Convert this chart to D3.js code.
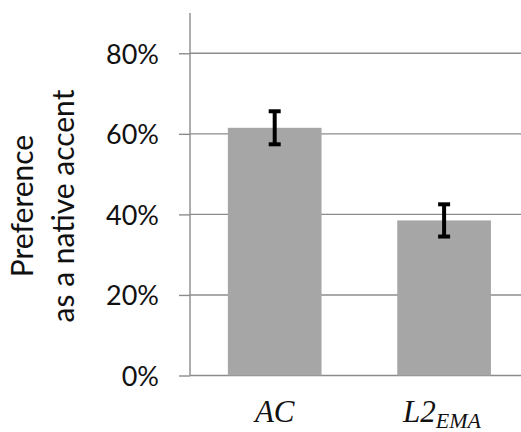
<!DOCTYPE html>
<html>
<head>
<meta charset="utf-8">
<script src="https://cdn.jsdelivr.net/npm/d3@7"></script>
<style>
  html, body { margin: 0; padding: 0; background: #fff; }
  svg { display: block; }
</style>
</head>
<body>
<svg id="chart" width="521" height="432"></svg>
<script>
// Share of listeners preferring each accent as native, with error margins
const categories = ["AC", "L2_EMA"];
const values = [61.5, 38.5];
const errors = [4.1, 4.0];
const yTicks = [0, 20, 40, 60, 80];

(function () {
  const svg = d3.select("#chart");
  const W = 521;
  const plotLeft = 190, plotTop = 13, plotBottom = 375.5;

  const y = d3.scaleLinear().domain([0, 90]).range([plotBottom, plotTop]);
  const x = d3.scaleBand().domain(categories).range([plotLeft, plotLeft + 2 * 169.4])
    .paddingInner(0.447).paddingOuter(0.2235);

  const labelFont = "Lato, 'Open Sans', sans-serif";

  // tick marks sticking out past the axis, with percent labels
  const yAxis = d3.axisLeft(y).tickValues(yTicks).tickSize(11)
    .tickFormat(d => d + "%");
  const gy = svg.append("g").attr("transform", `translate(${plotLeft},0)`).call(yAxis);
  gy.select(".domain").remove();
  gy.selectAll(".tick line").attr("stroke", "#8c8c8c").attr("stroke-width", 1.4);
  gy.selectAll(".tick text")
    .attr("x", -31)
    .attr("dy", "0.36em")
    .attr("fill", "#111")
    .style("font-family", labelFont)
    .style("font-size", "27px");

  // horizontal gridlines
  svg.append("g").selectAll("line").data(yTicks).join("line")
    .attr("x1", plotLeft).attr("x2", W)
    .attr("y1", d => y(d)).attr("y2", d => y(d))
    .attr("stroke", "#8c8c8c").attr("stroke-width", 1.4);

  // vertical axis line
  svg.append("line")
    .attr("x1", plotLeft).attr("x2", plotLeft)
    .attr("y1", y(90)).attr("y2", y(0))
    .attr("stroke", "#8c8c8c").attr("stroke-width", 1.4);

  // bars
  svg.append("g").selectAll("rect").data(categories).join("rect")
    .attr("x", d => x(d))
    .attr("width", x.bandwidth())
    .attr("y", (d, i) => y(values[i]))
    .attr("height", (d, i) => y(0) - y(values[i]))
    .attr("fill", "#a6a6a6");

  // error bars
  const eb = svg.append("g").selectAll("g").data(categories).join("g")
    .attr("transform", d => `translate(${x(d) + x.bandwidth() / 2},0)`);
  eb.append("line")
    .attr("y1", (d, i) => y(values[i] + errors[i]))
    .attr("y2", (d, i) => y(values[i] - errors[i]))
    .attr("stroke", "#000").attr("stroke-width", 4);
  [1, -1].forEach(s => {
    eb.append("line")
      .attr("x1", -6).attr("x2", 6)
      .attr("y1", (d, i) => y(values[i] + s * errors[i]))
      .attr("y2", (d, i) => y(values[i] + s * errors[i]))
      .attr("stroke", "#000").attr("stroke-width", 4);
  });

  // category labels in math italic
  const mathFont = "'Liberation Serif', 'DejaVu Serif', serif";
  const cx = d => x(d) + x.bandwidth() / 2;
  svg.append("text")
    .attr("x", cx("AC")).attr("y", 422)
    .attr("text-anchor", "middle")
    .style("font-family", mathFont).style("font-style", "italic")
    .style("font-size", "31px").attr("fill", "#111")
    .text("AC");
  const l2 = svg.append("text")
    .attr("x", cx("L2_EMA") - 2).attr("y", 422)
    .attr("text-anchor", "middle")
    .style("font-family", mathFont).style("font-style", "italic")
    .style("font-size", "31px").attr("fill", "#111");
  l2.append("tspan").text("L2");
  l2.append("tspan").attr("dy", 6).style("font-size", "22px").text("EMA");

  // y-axis title, two lines
  const yt = svg.append("text")
    .attr("transform", "translate(0,206) rotate(-90)")
    .attr("text-anchor", "middle")
    .style("font-family", labelFont).style("font-size", "30px").attr("fill", "#111");
  yt.append("tspan").attr("x", 0).attr("y", 33).text("Preference");
  yt.append("tspan").attr("x", 0).attr("y", 74).text("as a native accent");
})();
</script>
</body>
</html>
